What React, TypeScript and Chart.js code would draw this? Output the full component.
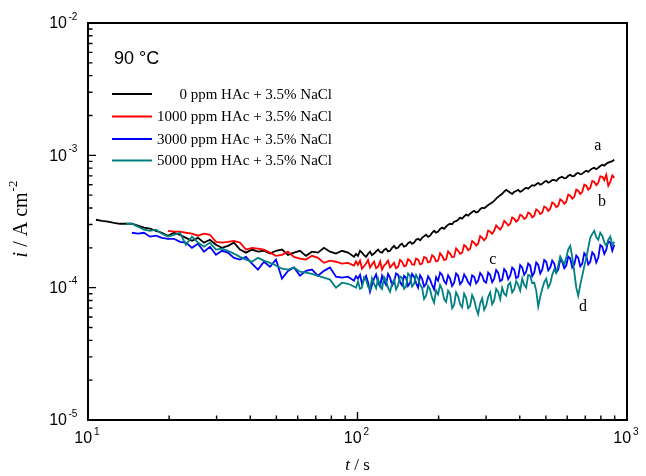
import React, { useEffect, useRef } from "react";
import { Chart, registerables } from "chart.js";

Chart.register(...registerables);

// time, s
const TIME_S = [
  10.7, 11.27, 11.86, 12.48, 13.14, 13.83, 14.56, 15.32, 16.13, 16.98,
  17.87, 18.81, 19.8, 20.84, 21.94, 23.09, 24.31, 25.59, 26.93, 28.35,
  29.84, 31.41, 33.06, 34.8, 36.63, 38.56, 40.59, 42.72, 44.97, 47.34,
  49.83, 52.45, 55.21, 58.11, 61.17, 64.39, 67.78, 71.34, 75.1, 79.05,
  83.21, 87.59, 92.2, 97.05,
  98.73, 100.4, 102.2, 103.9, 105.7, 107.6, 109.4, 111.3, 113.2, 115.2,
  117.2, 119.2, 121.3, 123.3, 125.5, 127.6, 129.8, 132.1, 134.4, 136.7,
  139, 141.4, 143.9, 146.3, 148.9, 151.4, 154, 156.7, 159.4, 162.2,
  165, 167.8, 170.7, 173.6, 176.6, 179.7, 182.8, 185.9, 189.1, 192.4,
  195.7, 199.1, 202.5, 206, 209.6, 213.2, 216.9, 220.6, 224.4, 228.3,
  232.2, 236.2, 240.3, 244.5, 248.7, 253, 257.4, 261.8, 266.3, 270.9,
  275.6, 280.3, 285.2, 290.1, 295.1, 300.2, 305.4, 310.6, 316, 321.4,
  327, 332.6, 338.4, 344.2, 350.2, 356.2, 362.4, 368.6, 375, 381.4,
  388, 394.7, 401.5, 408.4, 415.5, 422.6, 429.9, 437.3, 444.9, 452.6,
  460.4, 468.3, 476.4, 484.6, 493, 501.5, 510.2, 518.9, 527.9, 537,
  546.3, 555.7, 565.3, 575, 585, 595, 605.3, 615.7, 626.4, 637.2,
  648.2, 659.3, 670.7, 682.3, 694.1, 706, 718.2, 730.6, 743.2, 756,
  769.1, 782.3, 795.8, 809.6, 823.6, 837.7, 852.2, 866.9, 881.9, 897.1,
];

// current density, in units of 1e-4 A cm^-2
const I_UNIT = 1e-4;

const SERIES_A = [
  3.26, 3.2, 3.15, 3.09, 3.04, 3.04, 3.04, 2.94, 2.84, 2.79,
  2.69, 2.6, 2.47, 2.6, 2.51, 2.38, 2.26, 2.38, 2.19, 2.3,
  2.11, 2.0, 2.07, 2.19, 1.94, 1.84, 1.94, 1.87, 1.9, 1.81,
  1.9, 1.94, 1.77, 1.84, 1.9, 1.74, 1.87, 1.84, 2.0, 1.87,
  1.81, 1.9, 1.84, 1.71,
  1.8, 1.74, 1.9, 1.84, 1.76, 1.71, 1.8, 1.87, 1.76, 1.81,
  1.88, 1.94, 1.86, 1.84, 1.93, 1.97, 1.88, 1.9, 2.0, 2.07,
  1.98, 2.0, 2.1, 2.15, 2.04, 2.07, 2.17, 2.22, 2.14, 2.19,
  2.3, 2.34, 2.28, 2.38, 2.45, 2.51, 2.42, 2.47, 2.6, 2.69,
  2.6, 2.65, 2.78, 2.84, 2.78, 2.89, 2.99, 3.04, 3.02, 3.15,
  3.18, 3.26, 3.38, 3.32, 3.45, 3.56, 3.5, 3.62, 3.73, 3.81,
  3.7, 3.75, 3.92, 4.02, 3.98, 4.09, 4.21, 4.3, 4.4, 4.53,
  4.7, 4.86, 5.0, 5.12, 5.32, 5.49, 5.35, 5.21, 5.12, 5.3,
  5.38, 5.49, 5.3, 5.4, 5.58, 5.69, 5.6, 5.78, 5.95, 5.89,
  6.05, 6.2, 6.0, 6.09, 6.3, 6.42, 6.22, 6.31, 6.5, 6.53,
  6.4, 6.65, 6.8, 6.88, 6.7, 6.76, 7.0, 7.13, 6.95, 7.0,
  7.25, 7.38, 7.18, 7.25, 7.5, 7.64, 7.5, 7.77, 7.95, 8.05,
  7.85, 8.05, 8.3, 8.48, 8.35, 8.63, 8.8, 8.93, 9.05, 9.25,
];

const SERIES_B = [
  null, null, null, null, null, null, null, null, null, null,
  null, null,
  2.69, 2.65, 2.65, 2.6, 2.56, 2.47, 2.56, 2.51, 2.22, 2.19,
  2.22, 2.26, 2.19, 1.94, 2.0, 1.97, 1.94, 1.84, 1.74, 1.77,
  1.87, 1.71, 1.66, 1.63, 1.74, 1.68, 1.54, 1.6, 1.57, 1.52,
  1.54, 1.47,
  1.58, 1.49, 1.6, 1.39, 1.45, 1.52, 1.62, 1.42, 1.5, 1.57,
  1.4, 1.44, 1.58, 1.37, 1.47, 1.52, 1.6, 1.42, 1.48, 1.54,
  1.4, 1.44, 1.62, 1.57, 1.45, 1.47, 1.64, 1.6, 1.5, 1.49,
  1.66, 1.63, 1.5, 1.52, 1.7, 1.68, 1.55, 1.57, 1.76, 1.71,
  1.58, 1.6, 1.82, 1.74, 1.62, 1.63, 1.88, 1.81, 1.7, 1.71,
  1.98, 1.9, 1.8, 1.84, 2.1, 2.04, 1.92, 1.97, 2.25, 2.19,
  2.08, 2.15, 2.45, 2.38, 2.28, 2.38, 2.7, 2.65, 2.55, 2.69,
  2.95, 2.84, 2.75, 2.89, 3.2, 3.09, 2.95, 3.04, 3.4, 3.32,
  3.15, 3.26, 3.55, 3.49, 3.3, 3.38, 3.7, 3.62, 3.4, 3.49,
  3.9, 3.81, 3.6, 3.68, 4.1, 4.02, 3.8, 3.95, 4.4, 4.3,
  4.05, 4.16, 4.65, 4.53, 4.3, 4.46, 5.05, 4.95, 4.7, 4.86,
  5.5, 5.4, 5.1, 5.3, 6.0, 5.89, 5.5, 5.69, 6.4, 6.31,
  5.95, 6.2, 6.95, 6.88, 6.5, 7.13, 5.9, 6.31, 7.05, 6.76,
];

const SERIES_C = [
  null, null, null, null, null, null,
  2.6, 2.56, 2.6, 2.43, 2.47, 2.38, 2.34, 2.34, 2.22, 2.19,
  2.0, 2.15, 1.87, 2.04, 1.77, 1.9, 1.84, 1.68, 1.63, 1.71,
  1.52, 1.37, 1.57, 1.44, 1.63, 1.17, 1.34, 1.42, 1.23, 1.34,
  1.37, 1.23, 1.34, 1.42, 1.21, 1.19, 1.21, 1.13,
  1.22, 1.17, 1.25, 1.07, 1.15, 1.23, 1.1, 0.93, 1.05, 1.17,
  1.26, 1.09, 1.02, 1.23, 1.12, 1.05, 1.27, 1.19, 1.04, 1.11,
  1.28, 1.25, 1.1, 1.04, 1.23, 1.19, 1.03, 1.09, 1.27, 1.21,
  1.08, 1.0, 1.24, 1.17, 1.02, 1.07, 1.22, 1.15, 1.05, 0.97,
  1.2, 1.13, 1.3, 1.25, 1.12, 1.07, 1.24, 1.17, 1.03, 1.09,
  1.28, 1.23, 1.06, 1.11, 1.26, 1.19, 1.1, 1.05, 1.24, 1.21,
  1.08, 1.13, 1.29, 1.23, 1.12, 1.09, 1.3, 1.25, 1.1, 1.17,
  1.36, 1.3, 1.12, 1.15, 1.38, 1.32, 1.16, 1.23, 1.42, 1.37,
  1.18, 1.21, 1.48, 1.42, 1.25, 1.32, 1.52, 1.47, 1.22, 1.3,
  1.55, 1.49, 1.28, 1.37, 1.62, 1.57, 1.35, 1.42, 1.6, 1.52,
  1.3, 1.37, 1.63, 1.57, 1.4, 1.47, 1.72, 1.66, 1.42, 1.49,
  1.75, 1.68, 1.45, 1.52, 1.82, 1.74, 1.5, 1.57, 1.85, 1.77,
  1.55, 1.68, 2.1, 2.04, 1.8, 1.94, 2.25, 2.19, 1.9, 2.11,
];

const SERIES_D = [
  null, null, null, null, null,
  3.04, 3.04, 2.89, 2.74, 2.69, 2.74, 2.56, 2.43, 2.51, 2.6,
  2.11, 2.43, 2.19, 2.04, 2.19, 1.94, 1.97, 1.9, 1.81, 1.71,
  1.63, 1.57, 1.68, 1.6, 1.54, 1.47, 1.39, 1.37, 1.42, 1.32,
  1.3, 1.27, 1.23, 1.19, 1.15, 1.0, 1.09, 1.07, 1.02,
  1.0, 1.11, 0.98, 1.0, 1.2, 1.15, 1.02, 0.97, 1.18, 1.07,
  0.99, 1.17, 1.04, 0.98, 1.2, 1.13, 1.0, 0.93, 1.08, 1.15,
  0.97, 1.04, 1.22, 1.19, 0.98, 1.02, 1.28, 1.23, 1.02, 1.07,
  1.25, 1.17, 1.05, 1.0, 0.82, 0.87, 1.03, 0.97, 0.84, 0.77,
  0.95, 0.89, 1.05, 0.97, 0.82, 0.78, 0.95, 0.9, 0.7, 0.74,
  0.92, 0.86, 0.75, 0.71, 0.9, 0.84, 0.7, 0.73, 0.88, 0.81,
  0.7, 0.63, 0.76, 0.83, 0.68, 0.73, 0.85, 0.92, 0.75, 0.8,
  0.98, 0.93, 0.82, 1.0, 0.9, 0.87, 1.05, 1.09, 0.92, 0.97,
  1.12, 1.05, 0.95, 1.17, 1.05, 1.0, 1.25, 1.23, 1.08, 1.09,
  0.95, 0.72, 0.85, 0.98, 1.1, 1.17, 1.0, 1.07, 1.25, 1.37,
  1.3, 1.47, 1.72, 1.6, 1.5, 1.68, 1.95, 2.07, 1.7, 1.32,
  1.0, 0.87, 1.05, 1.23, 1.45, 1.68, 2.0, 2.38, 2.55, 2.69,
  2.4, 2.3, 2.6, 2.47, 2.2, 2.07, 2.3, 2.43, 2.1, 2.22,
];

const LEGEND_LABELS = [
  "0 ppm HAc + 3.5% NaCl",
  "1000 ppm HAc + 3.5% NaCl",
  "3000 ppm HAc + 3.5% NaCl",
  "5000 ppm HAc + 3.5% NaCl",
];
const SERIES_COLORS = ["#000000", "#ff0000", "#0000ff", "#008080"];
const CURVE_TAGS = ["a", "b", "c", "d"];
// tag anchor points in data units (t in s, i in A cm^-2)
const TAG_T = [780, 807, 318, 687];
const TAG_I = [1.18e-3, 4.46e-4, 1.63e-4, 7.2e-5];

const TEMPERATURE_LABEL = "90 °C";
const X_DECADES = [1, 2, 3];
const Y_DECADES = [-5, -4, -3, -2];
const MINOR_STEPS = [2, 3, 4, 5, 6, 7, 8, 9];

const SANS = '"Liberation Sans", Arial, sans-serif';
const SERIF = '"Liberation Serif", "Times New Roman", serif';

function buildPoints(values: (number | null)[]) {
  const pts: { x: number; y: number }[] = [];
  values.forEach((v, i) => {
    if (v != null) pts.push({ x: TIME_S[i], y: v * I_UNIT });
  });
  return pts;
}

const decorPlugin = {
  id: "decor",
  afterDraw(chart: any) {
    const { ctx, chartArea: ca, scales } = chart;
    const xs = scales.x;
    const ys = scales.y;
    ctx.save();

    // frame
    ctx.strokeStyle = "#000";
    ctx.lineWidth = 2;
    ctx.strokeRect(ca.left, ca.top, ca.right - ca.left, ca.bottom - ca.top);

    // ticks (inward, left and bottom)
    ctx.lineWidth = 1.4;
    ctx.beginPath();
    Y_DECADES.forEach((e) => {
      const y = ys.getPixelForValue(Math.pow(10, e));
      ctx.moveTo(ca.left, y);
      ctx.lineTo(ca.left + 8, y);
      if (e < -2) {
        MINOR_STEPS.forEach((m) => {
          const ym = ys.getPixelForValue(m * Math.pow(10, e));
          ctx.moveTo(ca.left, ym);
          ctx.lineTo(ca.left + 4.5, ym);
        });
      }
    });
    X_DECADES.forEach((e) => {
      const x = xs.getPixelForValue(Math.pow(10, e));
      ctx.moveTo(x, ca.bottom);
      ctx.lineTo(x, ca.bottom - 8);
      if (e < 3) {
        MINOR_STEPS.forEach((m) => {
          const xm = xs.getPixelForValue(m * Math.pow(10, e));
          ctx.moveTo(xm, ca.bottom);
          ctx.lineTo(xm, ca.bottom - 4.5);
        });
      }
    });
    ctx.stroke();

    // tick labels
    ctx.fillStyle = "#000";
    ctx.textBaseline = "middle";
    const mainFont = `16px ${SANS}`;
    const supFont = `10px ${SANS}`;
    Y_DECADES.forEach((e) => {
      const y = ys.getPixelForValue(Math.pow(10, e));
      ctx.font = mainFont;
      ctx.textAlign = "right";
      ctx.fillText("10", 67, y + 1);
      ctx.font = supFont;
      ctx.textAlign = "left";
      ctx.fillText(String(e), 68.5, y - 6);
    });
    X_DECADES.forEach((e) => {
      const x = xs.getPixelForValue(Math.pow(10, e));
      ctx.font = mainFont;
      const w1 = ctx.measureText("10").width;
      ctx.font = supFont;
      const w2 = ctx.measureText(String(e)).width;
      const start = x - (w1 + 2 + w2) / 2 - 1;
      ctx.font = mainFont;
      ctx.textAlign = "left";
      ctx.fillText("10", start, ca.bottom + 19);
      ctx.font = supFont;
      ctx.fillText(String(e), start + w1 + 2, ca.bottom + 12);
    });

    // x axis title
    {
      ctx.font = `italic 17px ${SERIF}`;
      const wT = ctx.measureText("t").width;
      ctx.font = `17px ${SERIF}`;
      const wR = ctx.measureText(" / s").width;
      const cx = (ca.left + ca.right) / 2;
      const start = cx - (wT + wR) / 2;
      const y = 466;
      ctx.textAlign = "left";
      ctx.font = `italic 17px ${SERIF}`;
      ctx.fillText("t", start, y);
      ctx.font = `17px ${SERIF}`;
      ctx.fillText(" / s", start + wT, y);
    }

    // y axis title
    {
      ctx.save();
      ctx.translate(22, 219);
      ctx.rotate(-Math.PI / 2);
      ctx.font = `italic 20px ${SERIF}`;
      const wi = ctx.measureText("i").width;
      ctx.font = `20px ${SERIF}`;
      const wm = ctx.measureText(" / A cm").width;
      ctx.font = `13px ${SERIF}`;
      const ws = ctx.measureText("-2").width;
      const start = -(wi + wm + ws + 1) / 2;
      ctx.textAlign = "left";
      ctx.textBaseline = "middle";
      ctx.font = `italic 20px ${SERIF}`;
      ctx.fillText("i", start, 0);
      ctx.font = `20px ${SERIF}`;
      ctx.fillText(" / A cm", start + wi, 0);
      ctx.font = `13px ${SERIF}`;
      ctx.fillText("-2", start + wi + wm + 1, -8);
      ctx.restore();
    }

    // temperature label
    ctx.font = `18px ${SANS}`;
    ctx.textAlign = "left";
    ctx.textBaseline = "middle";
    ctx.fillText(TEMPERATURE_LABEL, 114, 59);

    // legend
    const rowY = [94, 116.5, 139, 160.5];
    LEGEND_LABELS.forEach((label, i) => {
      ctx.strokeStyle = SERIES_COLORS[i];
      ctx.lineWidth = 2;
      ctx.beginPath();
      ctx.moveTo(112, rowY[i]);
      ctx.lineTo(152, rowY[i]);
      ctx.stroke();
      ctx.fillStyle = "#000";
      ctx.font = `15px ${SERIF}`;
      ctx.textAlign = "right";
      ctx.fillText(label, 332, rowY[i] + 1);
    });

    // curve tags
    ctx.font = `16px ${SERIF}`;
    ctx.textAlign = "center";
    CURVE_TAGS.forEach((tag, i) => {
      const x = xs.getPixelForValue(TAG_T[i]);
      const y = ys.getPixelForValue(TAG_I[i]);
      ctx.fillText(tag, x, y);
    });

    ctx.restore();
  },
};

export default function App() {
  const canvasRef = useRef<HTMLCanvasElement | null>(null);

  useEffect(() => {
    document.body.style.margin = "0";
    const canvas = canvasRef.current;
    if (!canvas) return;
    const seriesList = [SERIES_A, SERIES_B, SERIES_C, SERIES_D];
    const chart = new Chart(canvas, {
      type: "line",
      data: {
        datasets: seriesList.map((s, i) => ({
          label: LEGEND_LABELS[i],
          data: buildPoints(s),
          borderColor: SERIES_COLORS[i],
          backgroundColor: SERIES_COLORS[i],
          borderWidth: 1.8,
          pointRadius: 0,
          tension: 0,
          fill: false,
          order: 4 - i,
        })),
      },
      options: {
        responsive: false,
        animation: false,
        events: [],
        layout: { padding: { top: 23, right: 19, left: 0, bottom: 0 }, autoPadding: false },
        plugins: { legend: { display: false }, tooltip: { enabled: false } },
        scales: {
          x: {
            type: "logarithmic",
            min: 10,
            max: 1000,
            ticks: { display: false },
            grid: { display: false, drawTicks: false },
            border: { display: false },
            afterFit: (s: any) => {
              s.height = 56;
            },
          },
          y: {
            type: "logarithmic",
            min: 1e-5,
            max: 1e-2,
            ticks: { display: false },
            grid: { display: false, drawTicks: false },
            border: { display: false },
            afterFit: (s: any) => {
              s.width = 88;
            },
          },
        },
      } as any,
      plugins: [decorPlugin],
    });
    return () => chart.destroy();
  }, []);

  return (
    <div style={{ width: 646, height: 476, background: "#fff" }}>
      <canvas ref={canvasRef} width={646} height={476} style={{ display: "block", width: 646, height: 476 }} />
    </div>
  );
}
